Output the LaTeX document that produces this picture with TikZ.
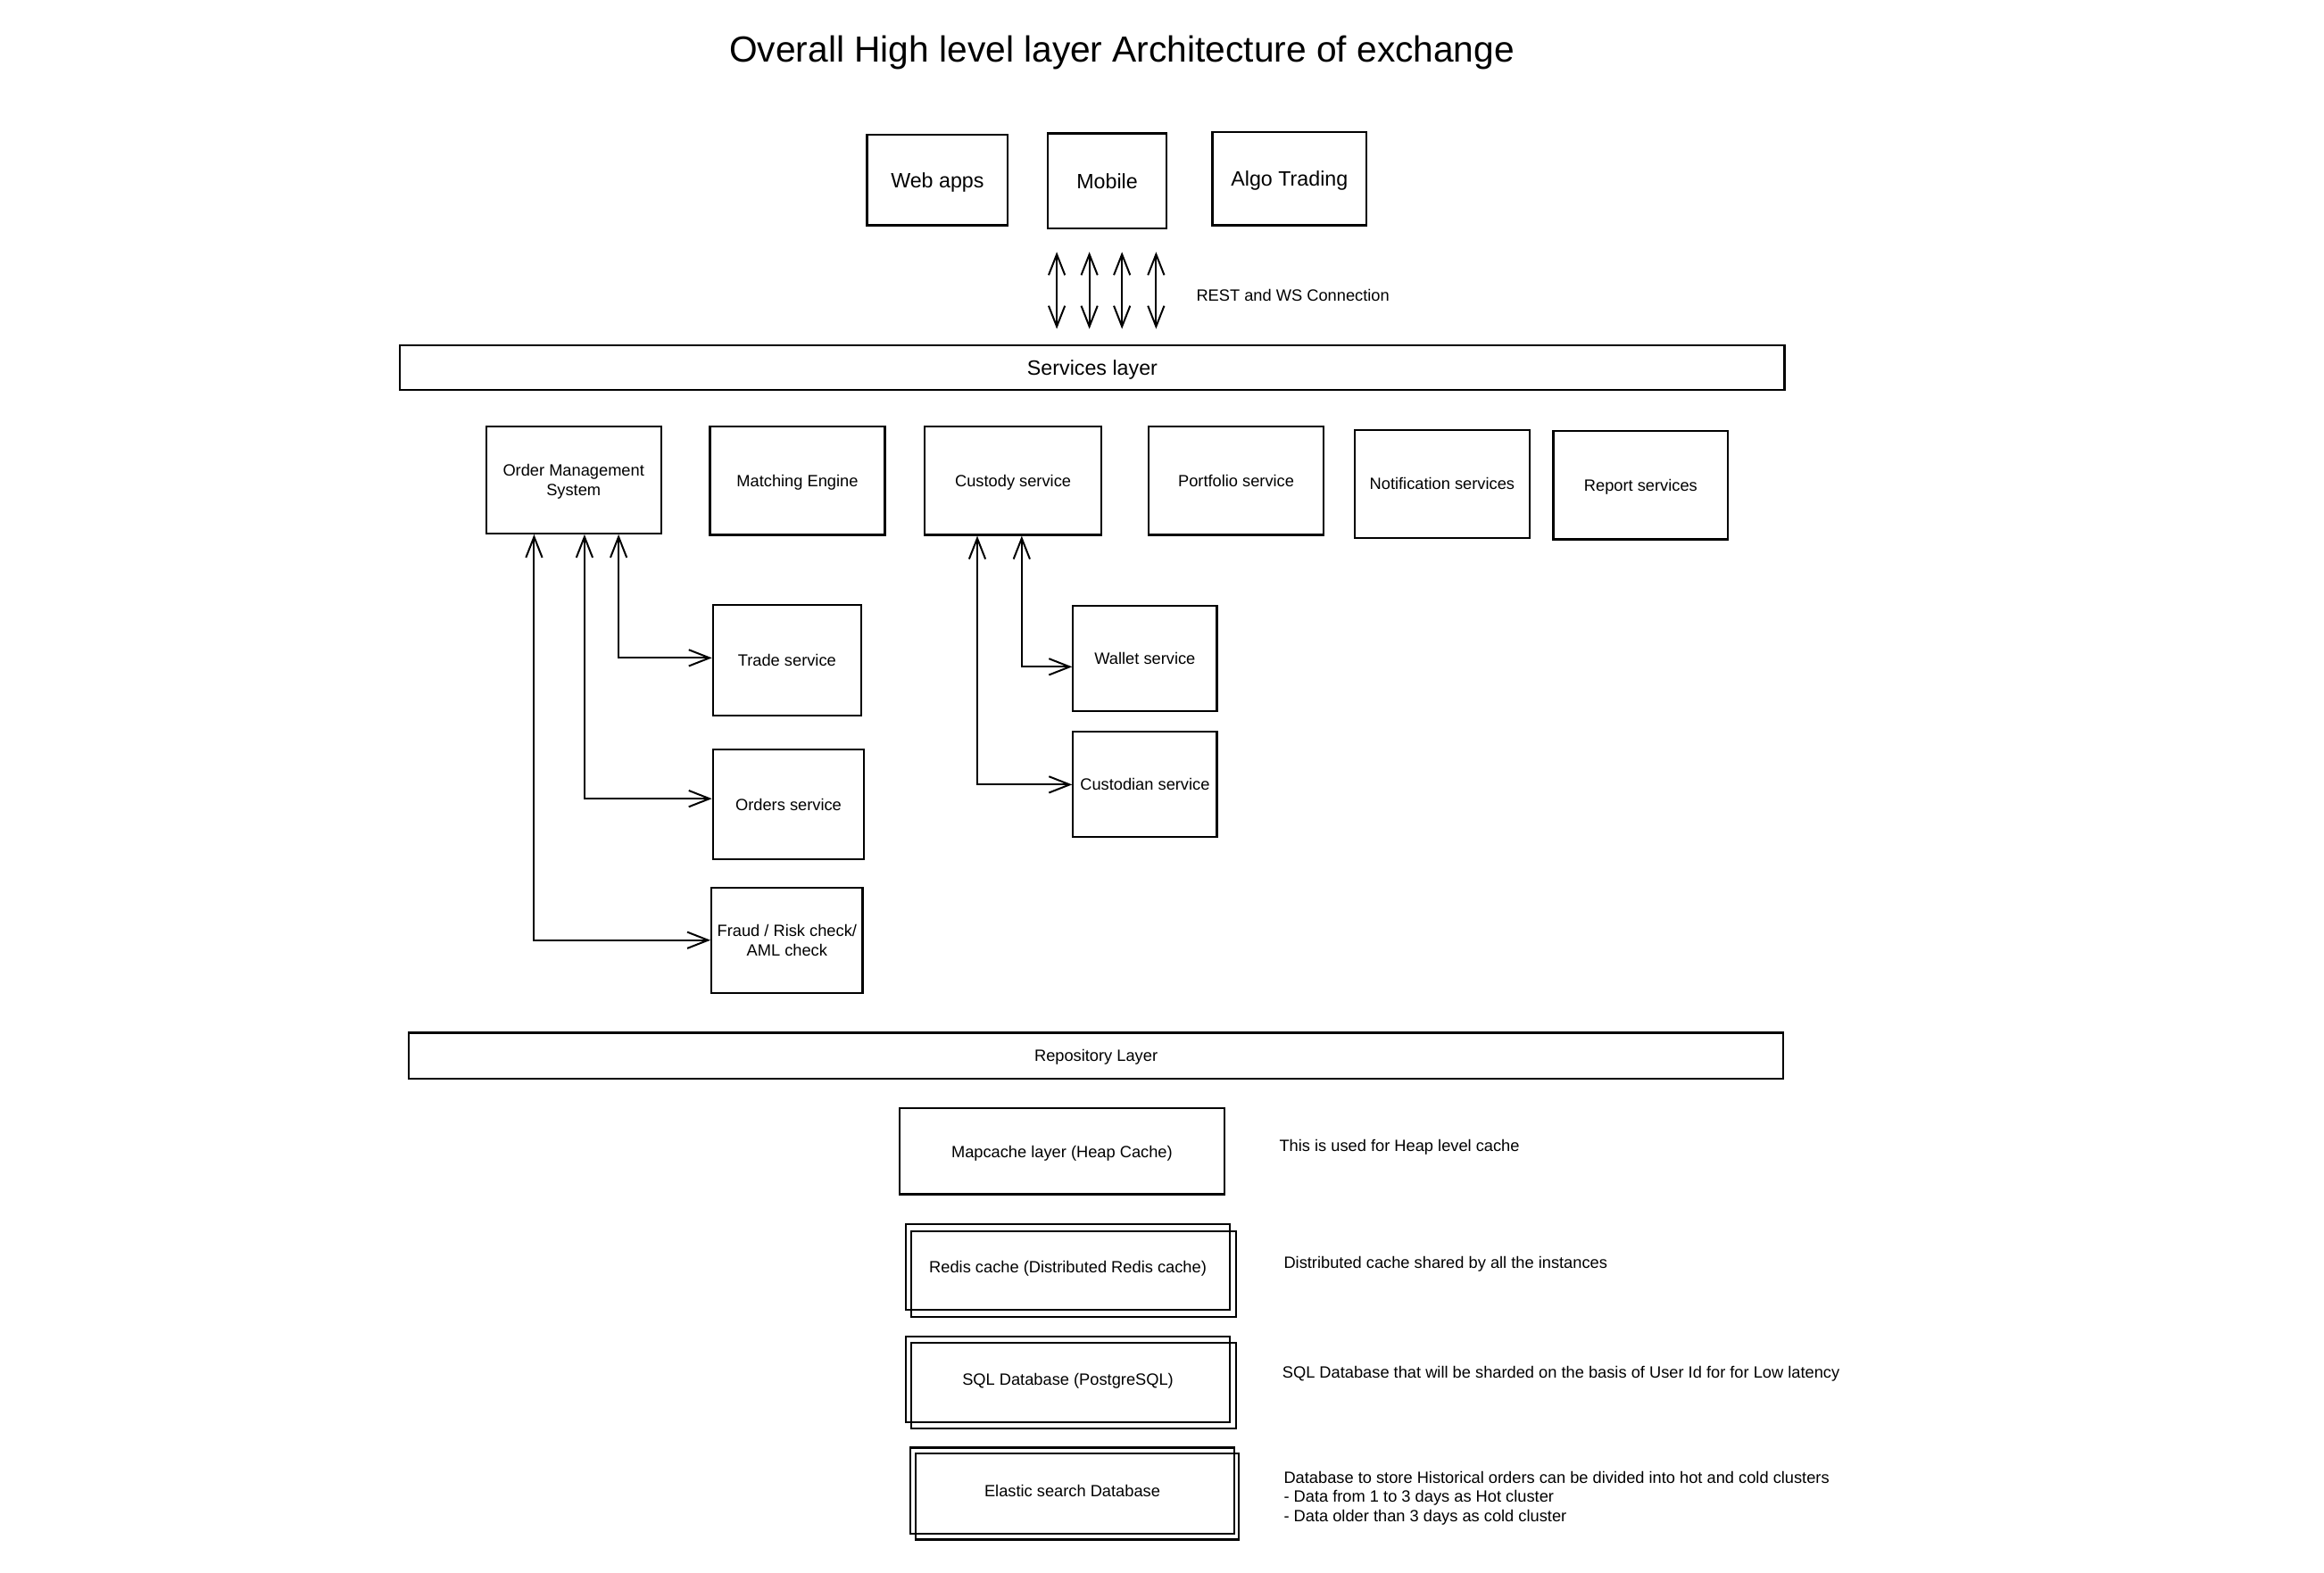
\documentclass[tikz,border=0pt]{standalone}
\usepackage{fontspec}
\setmainfont{Liberation Sans}
\usetikzlibrary{arrows.meta,calc}
\begin{document}
\begin{tikzpicture}[x=1pt,y=-1pt,
  box/.style={draw=black,line width=1.3pt,inner sep=0pt,align=center,text depth=0pt,font=\fontsize{11}{13}\selectfont},
  bigbox/.style={box,font=\fontsize{14}{17}\selectfont},
  note/.style={anchor=west,inner sep=0pt,align=left,text depth=0pt,font=\fontsize{11}{13}\selectfont},
  conn/.style={draw=black,line width=1.2pt,{Straight Barb[length=14pt,width=11pt]}-{Straight Barb[length=14pt,width=11pt]}}
]
\useasboundingbox (0,0) rectangle (1568,1061);

\node[font=\fontsize{24.5}{29}\selectfont,text depth=0pt] (title) at (757,33) {Overall High level layer Architecture of exchange};

% clients
\node[bigbox,minimum width=95pt,minimum height=61pt] (web) at (632.5,121.5) {Web apps};
\node[bigbox,minimum width=80pt,minimum height=64pt] (mobile) at (747,122) {Mobile};
\node[bigbox,minimum width=104pt,minimum height=63pt] (algo) at (870,120.5) {Algo Trading};

% REST arrows
\foreach \i/\x in {1/713,2/735,3/757,4/780}{
  \coordinate (rt\i) at (\x,170);
  \coordinate (rb\i) at (\x,222);
  \draw[conn] (rt\i) -- (rb\i);
}
\node[note] (rest) at (807,199) {REST and WS Connection};

% services layer
\node[bigbox,minimum width=934pt,minimum height=30pt] (services) at (737,248) {Services layer};

\node[box,minimum width=118pt,minimum height=72pt] (oms) at (387,324) {Order Management\\System};
\node[box,minimum width=118pt,minimum height=73pt] (match) at (538,324.5) {Matching Engine};
\node[box,minimum width=119pt,minimum height=73pt] (custody) at (683.5,324.5) {Custody service};
\node[box,minimum width=118pt,minimum height=73pt] (portfolio) at (834,324.5) {Portfolio service};
\node[box,minimum width=118pt,minimum height=73pt] (notif) at (973,326.5) {Notification services};
\node[box,minimum width=118pt,minimum height=73pt] (report) at (1107,327.5) {Report services};

\node[box,minimum width=100pt,minimum height=75pt] (trade) at (531,445.5) {Trade service};
\node[box,minimum width=102pt,minimum height=74pt] (orders) at (532,543) {Orders service};
\node[box,minimum width=102pt,minimum height=71pt] (fraud) at (531,634.5) {Fraud / Risk check/\\AML check};
\node[box,minimum width=97pt,minimum height=71pt] (wallet) at (772.5,444.5) {Wallet service};
\node[box,minimum width=97pt,minimum height=71pt] (custodian) at (772.5,529.5) {Custodian service};

\draw[conn] ($(oms.south west)+(90,0)$) |- ($(trade.west)+(0,-1.5)$);
\draw[conn] ($(oms.south west)+(67,0)$) |- ($(orders.west)+(0,-4)$);
\draw[conn] ($(oms.south west)+(33,0)$) |- (fraud.west);
\draw[conn] ($(custody.south west)+(66,0)$) |- ($(wallet.west)+(0,5.5)$);
\draw[conn] ($(custody.south west)+(36,0)$) |- (custodian.west);

% repository layer
\node[box,minimum width=927pt,minimum height=31pt] (repo) at (739.5,712.5) {Repository Layer};

\node[box,minimum width=219pt,minimum height=58pt] (mapcache) at (716.5,777) {Mapcache layer (Heap Cache)};

\node[box,minimum width=219pt,minimum height=58pt] (redisb) at (724.5,860) {};
\node[box,minimum width=219pt,minimum height=58pt] (redis) at (720.5,855) {Redis cache (Distributed Redis cache)};

\node[box,minimum width=219pt,minimum height=58pt] (sqlb) at (724.5,935) {};
\node[box,minimum width=219pt,minimum height=58pt] (sql) at (720.5,931) {SQL Database (PostgreSQL)};

\node[box,minimum width=218pt,minimum height=58pt] (elasticb) at (727,1010) {};
\node[box,minimum width=219pt,minimum height=58pt] (elastic) at (723.5,1006) {Elastic search Database};

\node[note] (n1) at (863,773) {This is used for Heap level cache};
\node[note] (n2) at (866,852) {Distributed cache shared by all the instances};
\node[note] (n3) at (865,926) {SQL Database that will be sharded on the basis of User Id for for Low latency};
\node[note] (n4) at (866,1010) {Database to store Historical orders can be divided into hot and cold clusters\\- Data from 1 to 3 days as Hot cluster\\- Data older than 3 days as cold cluster};
\end{tikzpicture}
\end{document}
